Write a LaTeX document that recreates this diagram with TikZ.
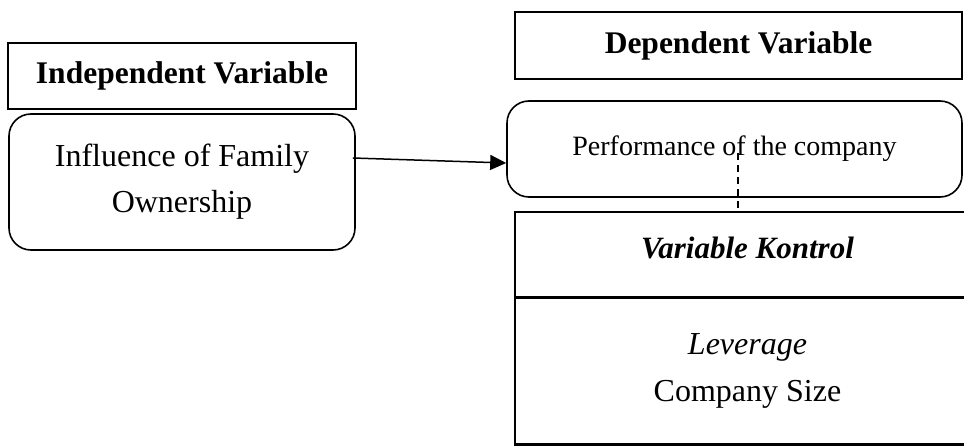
\documentclass[tikz,border=0pt]{standalone}
\usepackage{fontspec}
\setmainfont{Liberation Serif}
\usepackage{tikz}
\usetikzlibrary{positioning}
\usetikzlibrary{arrows.meta}

\begin{document}
\begin{tikzpicture}[x=1pt, y=-1pt,
    headbox/.style={draw, line width=1.6pt, inner sep=0pt, font=\fontsize{31.5}{36}\selectfont\bfseries},
    varbox/.style={draw, line width=1.6pt, rounded corners=22pt, inner sep=0pt, align=center},
    tablebox/.style={draw, line width=1.6pt, inner sep=0pt, minimum width=465pt, align=center}]
    \useasboundingbox (0,0) rectangle (964,446);
    \clip (0,0) rectangle (964,446);

    % left column
    \node [headbox, minimum width=348pt, minimum height=66pt] (indep) at (182,76) {Independent Variable};
    \node [varbox, minimum width=346pt, minimum height=136pt, font=\fontsize{32}{46}\selectfont] (infl) at (182,182) {Influence of Family\\Ownership};

    % right column
    \node [headbox, minimum width=447pt, minimum height=67pt] (dep) at (738.5,45.5) {Dependent Variable};
    \node [varbox, minimum width=455pt, minimum height=96pt, font=\fontsize{28}{32}\selectfont] (perf) at (734.5,149) {Performance of the company};

    % control variables table
    \node [tablebox, minimum height=85pt, text height=22pt, text depth=14pt, font=\fontsize{31}{36}\selectfont\bfseries\itshape] (ctrl) at (747.5,254.5) {Variable Kontrol};
    \node [tablebox, minimum height=145pt, below=0pt of ctrl, font=\fontsize{32}{47}\selectfont] (ctrlvars) {\textit{Leverage}\\Company Size};
    \node [tablebox, minimum height=60pt, below=0pt of ctrlvars] (ctrlnext) {};

    \draw [-{Triangle[length=16pt,width=15pt]}, line width=1.5pt] ([xshift=-3pt,yshift=24pt]infl.east) -- ([yshift=-14pt]perf.west);
    \draw [dash pattern=on 7pt off 5pt, line width=1.2pt] ([xshift=3.5pt,yshift=-4pt]perf.center) -- ([xshift=3.5pt]perf.center |- ctrl.north);
\end{tikzpicture}
\end{document}
